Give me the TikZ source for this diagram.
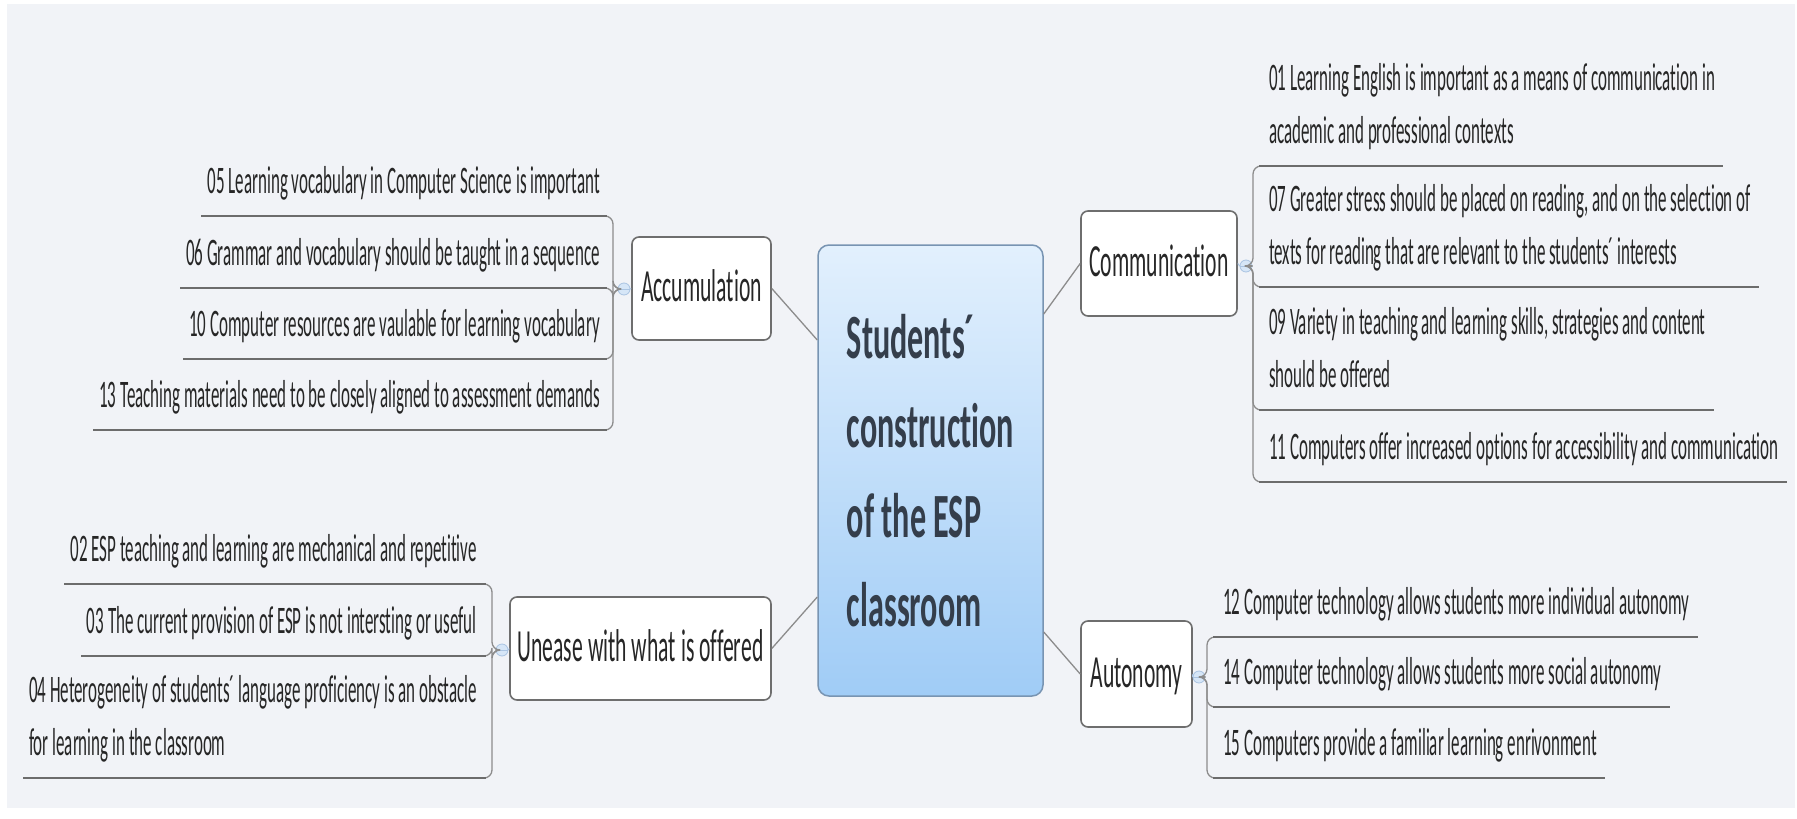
\documentclass[tikz,border=0pt]{standalone}
\usepackage{fontspec}
\setmainfont{Carlito}[FakeStretch=0.47, Ligatures=NoCommon]
\newfontfamily\itemfont{Carlito}[FakeStretch=0.435, Ligatures=NoCommon]
\newfontfamily\titlefont{Carlito}[FakeStretch=0.51, Ligatures=NoCommon]
\usetikzlibrary{calc}
\definecolor{bgc}{RGB}{241,243,247}
\definecolor{txt}{RGB}{38,38,38}
\definecolor{titc}{RGB}{52,62,75}
\definecolor{ulc}{RGB}{108,108,108}
\definecolor{brc}{RGB}{140,140,140}
\definecolor{boxc}{RGB}{110,110,110}
\definecolor{ctrtop}{RGB}{226,240,253}
\definecolor{ctrbot}{RGB}{160,204,246}
\definecolor{ctrline}{RGB}{120,148,178}
\definecolor{mkfill}{RGB}{214,230,247}
\definecolor{mkline}{RGB}{170,196,226}
\tikzset{
  item/.style={inner sep=0pt, font=\itemfont\fontsize{39}{53}\selectfont, text=txt, text depth=0pt, align=left},
  branch/.style={draw=boxc, line width=1.6pt, fill=white, rounded corners=7pt, inner sep=0pt,
    font=\fontsize{46}{55}\selectfont, text=txt, text height=28pt, text depth=2pt},
  ctrbox/.style={draw=ctrline, line width=1.5pt, rounded corners=11pt, top color=ctrtop, bottom color=ctrbot,
    inner sep=0pt, align=left, text=titc, font=\titlefont\bfseries\fontsize{63}{89.3}\selectfont},
  uline/.style={line width=2.4pt, draw=ulc},
  brk/.style={line width=1.3pt, draw=brc, rounded corners=8pt},
  conn/.style={line width=1.3pt, draw=brc},
  marker/.style={circle, minimum size=12pt, inner sep=0pt, fill=mkfill, draw=mkline, line width=0.8pt},
  mkln/.style={line width=1pt, draw=mkline}
}
\begin{document}
\begin{tikzpicture}[x=1pt,y=-1pt]
\useasboundingbox (0,0) rectangle (1797,819);
\fill[white] (0,0) rectangle (1797,819);
\fill[bgc] (7,4) rectangle (1795,808);

% central topic
\node[ctrbox, minimum width=225pt, minimum height=451pt] (ctr) at (930.5,470.5)
  {Students´\\construction\\of the ESP\\classroom};

% branch topics
\node[branch, minimum width=139pt, minimum height=103pt] (acc) at (701.5,288.5) {Accumulation};
\node[branch, minimum width=261pt, minimum height=103pt] (une) at (640.5,648.5) {Unease with what is offered};
\node[branch, minimum width=156pt, minimum height=105pt] (com) at (1159,263.5) {Communication};
\node[branch, minimum width=111pt, minimum height=106pt] (aut) at (1136.5,674) {Autonomy};

% connectors from the central topic
\draw[conn] (acc.east) -- (ctr.west |- 0,340);
\draw[conn] (une.east) -- (ctr.west |- 0,597);
\draw[conn] (ctr.east |- 0,314) -- (com.west);
\draw[conn] (ctr.east |- 0,632) -- (aut.west);

% markers
\node[marker] (macc) at (624,289) {};
\node[marker] (mune) at (502,650) {};
\node[marker] (mcom) at (1246,266) {};
\node[marker] (maut) at (1199,677) {};
\draw[mkln] (macc.east) -- (acc.west);
\draw[mkln] (mune.east) -- (une.west);
\draw[mkln] (com.east) -- (mcom.west);
\draw[mkln] (aut.east) -- (maut.west);
\draw[mkln] (macc.west) -- (macc.east);
\draw[mkln] (mune.west) -- (mune.east);
\draw[mkln] (mcom.west) -- (mcom.east);
\draw[mkln] (maut.west) -- (maut.east);

% ---------- Accumulation items ----------
\node[item, anchor=base east] (a05) at (600,193) {05 Learning vocabulary in Computer Science is important};
\node[item, anchor=base east] (a06) at (600,265) {06 Grammar and vocabulary should be taught in a sequence};
\node[item, anchor=base east] (a10) at (600,336) {10 Computer resources are vaulable for learning vocabulary};
\node[item, anchor=base east] (a13) at (600,407) {13 Teaching materials need to be closely aligned to assessment demands};
\draw[brk] (macc.west) -- (613,289) -- (613,216) -- (604,216);
\draw[brk] (macc.west) -- (613,289) -- (613,288) -- (604,288);
\draw[brk] (macc.west) -- (613,289) -- (613,359) -- (604,359);
\draw[brk] (macc.west) -- (613,289) -- (613,430) -- (604,430);
\draw[uline] (607,216) -- ($(a05.west |- 0,216)+(-6,0)$);
\draw[uline] (607,288) -- ($(a06.west |- 0,288)+(-6,0)$);
\draw[uline] (607,359) -- ($(a10.west |- 0,359)+(-6,0)$);
\draw[uline] (607,430) -- ($(a13.west |- 0,430)+(-6,0)$);

% ---------- Unease items ----------
\node[item, anchor=base east] (u02) at (477,561) {02 ESP teaching and learning are mechanical and repetitive};
\node[item, anchor=base east] (u03) at (477,633) {03 The current provision of ESP is not intersting or useful};
\node[item, anchor=base east] (u04) at (477,755) {04 Heterogeneity of students´ language proficiency is an obstacle\\for learning in the classroom};
\draw[brk] (mune.west) -- (492,650) -- (492,584) -- (483,584);
\draw[brk] (mune.west) -- (492,650) -- (492,656) -- (483,656);
\draw[brk] (mune.west) -- (492,650) -- (492,778) -- (483,778);
\draw[uline] (486,584) -- ($(u02.west |- 0,584)+(-6,0)$);
\draw[uline] (486,656) -- ($(u03.west |- 0,656)+(-6,0)$);
\draw[uline] (486,778) -- ($(u04.west |- 0,778)+(-6,0)$);

% ---------- Communication items ----------
\node[item, anchor=base west] (c01) at (1269,143) {01 Learning English is important as a means of communication in\\academic and professional contexts};
\node[item, anchor=base west] (c07) at (1269,264) {07 Greater stress should be placed on reading, and on the selection of\\texts for reading that are relevant to the students´ interests};
\node[item, anchor=base west] (c09) at (1269,387) {09 Variety in teaching and learning skills, strategies and content\\should be offered};
\node[item, anchor=base west] (c11) at (1269,459) {11 Computers offer increased options for accessibility and communication};
\draw[brk] (mcom.east) -- (1253,266) -- (1253,166) -- (1262,166);
\draw[brk] (mcom.east) -- (1253,266) -- (1253,287) -- (1262,287);
\draw[brk] (mcom.east) -- (1253,266) -- (1253,410) -- (1262,410);
\draw[brk] (mcom.east) -- (1253,266) -- (1253,482) -- (1262,482);
\draw[uline] (1259,166) -- ($(c01.east |- 0,166)+(8,0)$);
\draw[uline] (1259,287) -- ($(c07.east |- 0,287)+(8,0)$);
\draw[uline] (1259,410) -- ($(c09.east |- 0,410)+(8,0)$);
\draw[uline] (1259,482) -- ($(c11.east |- 0,482)+(8,0)$);

% ---------- Autonomy items ----------
\node[item, anchor=base west] (t12) at (1223,614) {12 Computer technology allows students more individual autonomy};
\node[item, anchor=base west] (t14) at (1223,684) {14 Computer technology allows students more social autonomy};
\node[item, anchor=base west] (t15) at (1223,755) {15 Computers provide a familiar learning enrivonment};
\draw[brk] (maut.east) -- (1207,677) -- (1207,637) -- (1216,637);
\draw[brk] (maut.east) -- (1207,677) -- (1207,707) -- (1216,707);
\draw[brk] (maut.east) -- (1207,677) -- (1207,778) -- (1216,778);
\draw[uline] (1213,637) -- ($(t12.east |- 0,637)+(8,0)$);
\draw[uline] (1213,707) -- ($(t14.east |- 0,707)+(8,0)$);
\draw[uline] (1213,778) -- ($(t15.east |- 0,778)+(8,0)$);
\end{tikzpicture}
\end{document}
